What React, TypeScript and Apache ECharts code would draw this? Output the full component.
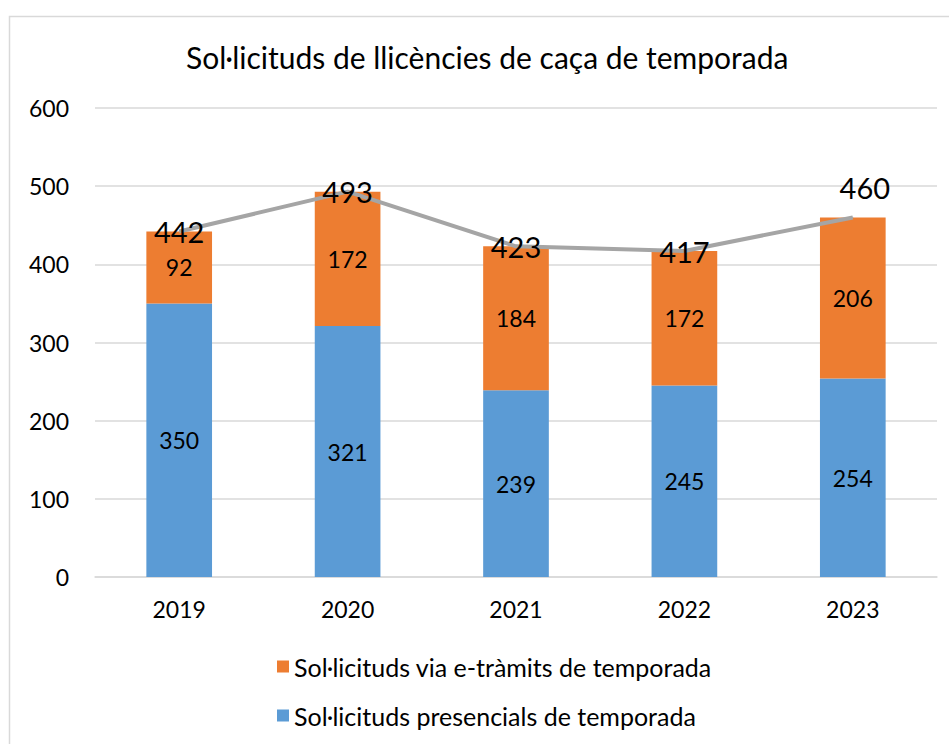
import React, { useEffect, useRef } from "react";
import * as echarts from "echarts";

const categories = ["2019", "2020", "2021", "2022", "2023"];
const presencials = [350, 321, 239, 245, 254];
const etramits = [92, 172, 184, 172, 206];
const totals = [442, 493, 423, 417, 460];
const yTicks = { min: 0, max: 600, interval: 100 };

const titleText = "Sol·licituds de llicències de caça de temporada";
const nameEtramits = "Sol·licituds via e-tràmits de temporada";
const namePresencials = "Sol·licituds presencials de temporada";

const FONT = "Lato";

export default function App() {
  const ref = useRef<HTMLDivElement>(null);
  useEffect(() => {
    if (!ref.current) return;
    const chart = echarts.init(ref.current, undefined, { renderer: "svg" });
    chart.setOption({
      animation: false,
      textStyle: { fontFamily: FONT },
      title: {
        text: titleText,
        left: 186,
        top: 42,
        padding: 0,
        textStyle: { fontFamily: FONT, fontSize: 30, fontWeight: "normal", color: "#000" },
      },
      graphic: [
        {
          type: "rect",
          shape: { x: 9.5, y: 16.5, width: 1000, height: 1000 },
          style: { fill: "none", stroke: "#D9D9D9", lineWidth: 1.5 },
          silent: true,
        },
      ],
      legend: {
        data: [nameEtramits, namePresencials],
        orient: "vertical",
        left: 272,
        top: 649,
        itemWidth: 12,
        itemHeight: 12,
        itemGap: 24,
        icon: "rect",
        textStyle: { fontFamily: FONT, fontSize: 25, color: "#000" },
      },
      grid: { left: 95, right: 12, top: 108, bottom: 167 },
      xAxis: {
        type: "category",
        data: categories,
        axisLine: { lineStyle: { color: "#D9D9D9", width: 1.5 } },
        axisTick: { show: false },
        axisLabel: { fontFamily: FONT, fontSize: 23, color: "#000", margin: 20 },
      },
      yAxis: {
        type: "value",
        min: yTicks.min,
        max: yTicks.max,
        interval: yTicks.interval,
        axisLine: { show: false },
        axisTick: { show: false },
        axisLabel: { fontFamily: FONT, fontSize: 23, color: "#000", margin: 26 },
        splitLine: { lineStyle: { color: "#D9D9D9", width: 1.5 } },
      },
      series: [
        {
          name: namePresencials,
          type: "bar",
          stack: "total",
          barWidth: "39%",
          data: presencials,
          itemStyle: { color: "#5B9BD5" },
          label: { show: true, position: "inside", fontFamily: FONT, fontSize: 23, color: "#000" },
        },
        {
          name: nameEtramits,
          type: "bar",
          stack: "total",
          barWidth: "39%",
          data: etramits,
          itemStyle: { color: "#ED7D31" },
          label: { show: true, position: "inside", fontFamily: FONT, fontSize: 23, color: "#000" },
        },
        {
          name: "Total",
          type: "line",
          data: totals.map((v, i) =>
            i === totals.length - 1
              ? { value: v, label: { position: "top", distance: 15, offset: [12, 0] } }
              : { value: v }
          ),
          symbol: "circle",
          symbolSize: 1,
          showSymbol: true,
          lineStyle: { color: "#A5A5A5", width: 4 },
          itemStyle: { color: "#A5A5A5" },
          label: { show: true, position: "inside", fontFamily: FONT, fontSize: 29, color: "#000" },
          z: 5,
        },
      ],
    });
    return () => chart.dispose();
  }, []);
  return (
    <div
      ref={ref}
      style={{ position: "absolute", left: 0, top: 0, width: 949, height: 744, background: "#fff" }}
    />
  );
}
